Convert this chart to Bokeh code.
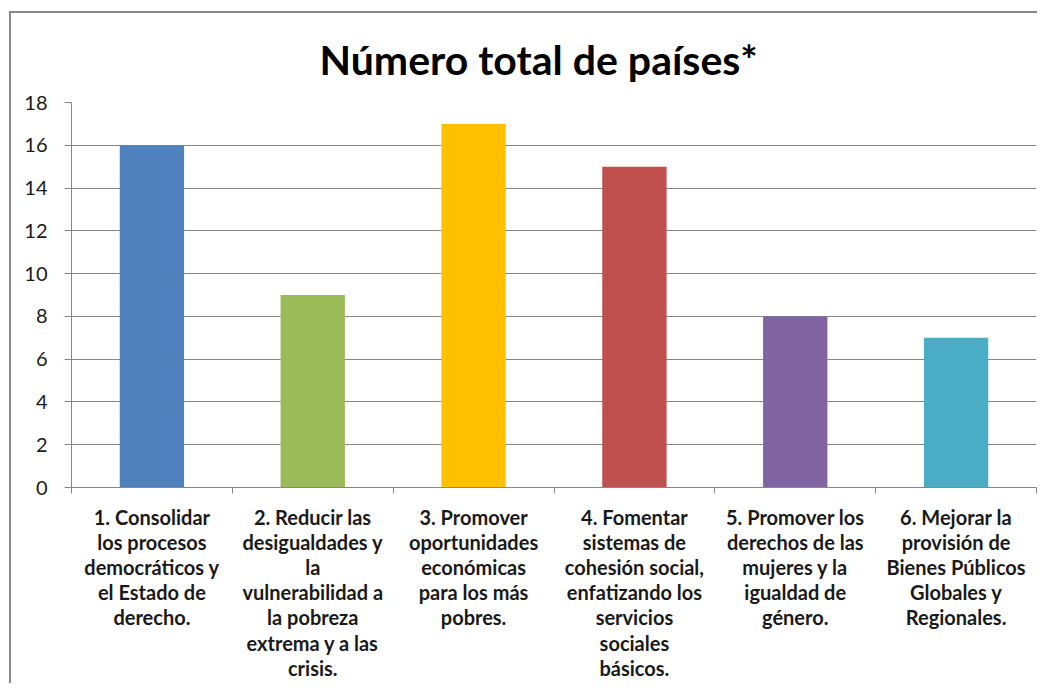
from bokeh.plotting import figure
from bokeh.models import FixedTicker, Range1d, ColumnDataSource
from bokeh.embed import file_html
from bokeh.resources import INLINE

title_text = "Número total de países*"
categories = [
    "1. Consolidar\nlos procesos\ndemocráticos y\nel Estado de\nderecho.",
    "2. Reducir las\ndesigualdades y\nla\nvulnerabilidad a\nla pobreza\nextrema y a las\ncrisis.",
    "3. Promover\noportunidades\neconómicas\npara los más\npobres.",
    "4. Fomentar\nsistemas de\ncohesión social,\nenfatizando los\nservicios\nsociales\nbásicos.",
    "5. Promover los\nderechos de las\nmujeres y la\nigualdad de\ngénero.",
    "6. Mejorar la\nprovisión de\nBienes Públicos\nGlobales y\nRegionales.",
]
values = [16, 9, 17, 15, 8, 7]
colors = ["#4F81BD", "#9BBB59", "#FFC000", "#C0504D", "#8064A2", "#4BACC6"]
y_ticks = [0, 2, 4, 6, 8, 10, 12, 14, 16, 18]

n = len(categories)
centers = [i + 0.5 for i in range(n)]
bounds = list(range(n + 1))

src = ColumnDataSource(dict(x=centers, top=values, color=colors))

W, H = 1028, 672
p = figure(width=W, height=H, output_backend="svg", toolbar_location=None,
           x_range=Range1d(0, n), y_range=Range1d(0, 18),
           min_border_left=60, min_border_right=W - 1025, min_border_top=89,
           min_border_bottom=H - 474)
p.styles = {"border-left": "2px solid #8a8a8a", "border-top": "2px solid #8a8a8a",
            "margin-left": "9px", "margin-top": "11px"}

p.vbar(x="x", top="top", width=0.4, color="color", source=src, line_color=None)

p.title.text = title_text
p.title.align = "left"
p.title.offset = 248
p.title.text_font = "Lato"
p.title.text_font_size = "41px"
p.title.text_font_style = "bold"
p.title.text_color = "#000000"
p.title.standoff = 38

grid_col = "#878787"
p.outline_line_color = None
p.xgrid.grid_line_color = None
p.ygrid.grid_line_color = grid_col
p.ygrid.ticker = FixedTicker(ticks=y_ticks)

p.yaxis.ticker = FixedTicker(ticks=y_ticks)
p.yaxis.axis_line_color = grid_col
p.yaxis.major_tick_line_color = grid_col
p.yaxis.major_tick_out = 7
p.yaxis.major_tick_in = 0
p.yaxis.minor_tick_line_color = None
p.yaxis.major_label_text_font = "Lato"
p.yaxis.major_label_text_font_size = "20px"
p.yaxis.major_label_text_color = "#1a1a1a"
p.yaxis.major_label_standoff = 17

p.xaxis.ticker = FixedTicker(ticks=centers, minor_ticks=bounds)
p.xaxis.major_label_overrides = {c: lab for c, lab in zip(centers, categories)}
p.xaxis.axis_line_color = grid_col
p.xaxis.major_tick_line_color = None
p.xaxis.minor_tick_line_color = grid_col
p.xaxis.minor_tick_out = 6
p.xaxis.minor_tick_in = 0
p.xaxis.major_tick_out = 0
p.xaxis.major_tick_in = 0
p.xaxis.major_label_standoff = 11
p.xaxis.major_label_text_font = "Lato"
p.xaxis.major_label_text_font_size = "20px"
p.xaxis.major_label_text_font_style = "bold"
p.xaxis.major_label_text_color = "#1a1a1a"
p.xaxis.major_label_text_line_height = 1.05

open("out.html", "w").write(file_html(p, INLINE))
